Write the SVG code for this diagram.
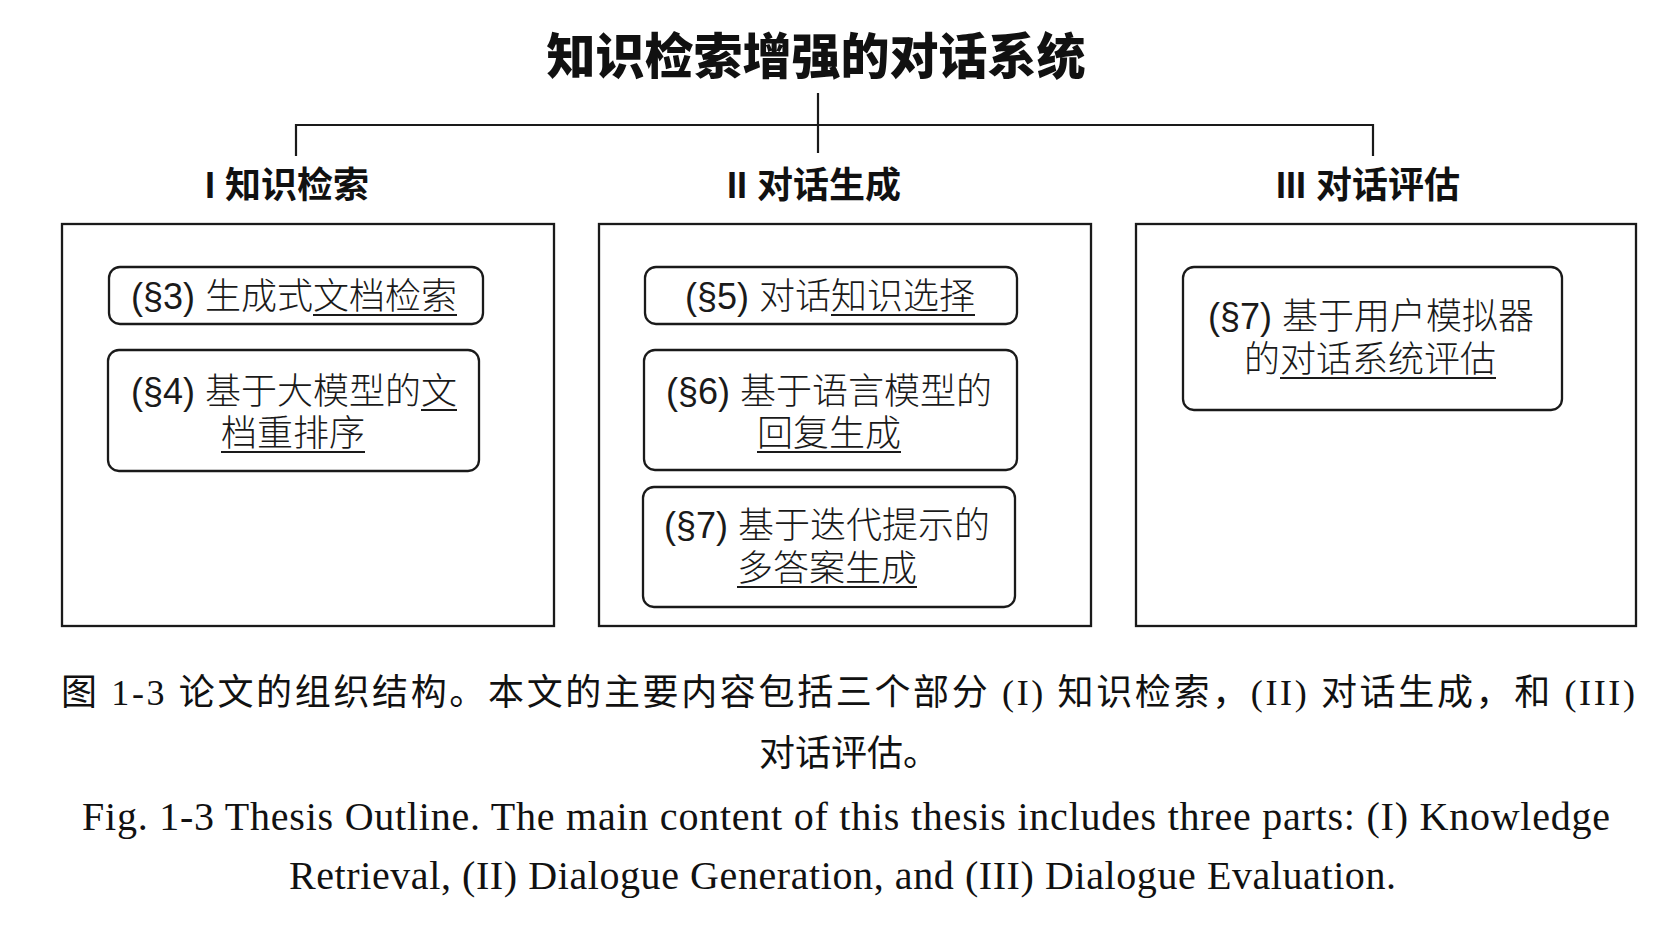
<svg xmlns="http://www.w3.org/2000/svg" width="1656" height="926" viewBox="0 0 1656 926">
<style>
.title{font-family:"Noto Sans CJK SC","Liberation Sans",sans-serif;font-weight:900;font-size:49px;fill:#111;text-anchor:middle}
.head{font-family:"Liberation Sans","Noto Sans CJK SC",sans-serif;font-weight:700;font-size:36px;fill:#111;text-anchor:middle}
.part{fill:#fff;stroke:#1a1a1a;stroke-width:2.3}
.item{fill:#fff;stroke:#1a1a1a;stroke-width:2.3}
.t{font-family:"Liberation Sans","Noto Sans CJK SC",sans-serif;font-weight:300;font-size:36px;fill:#1a1a1a;text-anchor:middle}
.ul{stroke:#1a1a1a;stroke-width:1.8}
.cap{font-family:"Liberation Serif","Noto Sans CJK SC",serif;font-size:36px;fill:#111}
.en{font-family:"Liberation Serif",serif;font-size:40px;fill:#111}
.conn{stroke:#1a1a1a;stroke-width:2.2;fill:none}
</style>
<rect width="1656" height="926" fill="#fff"/>
<g id="root"><text class="title" x="816" y="74">知识检索增强的对话系统</text></g>
<g id="connectors">
<path class="conn" d="M818,93 V153"/>
<path class="conn" d="M296,156 V125 H1373 V156"/>
</g>
<g id="part1">
<text class="head" x="287" y="198">I 知识检索</text>
<rect class="part" x="62" y="224" width="492" height="402"/>
</g>
<g id="part2">
<text class="head" x="814" y="198">II 对话生成</text>
<rect class="part" x="599" y="224" width="492" height="402"/>
</g>
<g id="part3">
<text class="head" x="1368" y="198">III 对话评估</text>
<rect class="part" x="1136" y="224" width="500" height="402"/>
</g>
<g id="s3">
<rect class="item" x="109" y="267" width="374" height="57" rx="11"/>
<text class="t" x="294" y="309">(§3) 生成式文档检索</text>
<line class="ul" x1="313" y1="315" x2="457" y2="315"/>
</g>
<g id="s4">
<rect class="item" x="108" y="350" width="371" height="121" rx="11"/>
<text class="t" x="294" y="404">(§4) 基于大模型的文</text>
<line class="ul" x1="421" y1="410" x2="457" y2="410"/>
<text class="t" x="293" y="446">档重排序</text>
<line class="ul" x1="221" y1="452" x2="365" y2="452"/>
</g>
<g id="s5">
<rect class="item" x="645" y="267" width="372" height="57" rx="11"/>
<text class="t" x="830" y="309">(§5) 对话知识选择</text>
<line class="ul" x1="831" y1="315" x2="975" y2="315"/>
</g>
<g id="s6">
<rect class="item" x="644" y="350" width="373" height="120" rx="11"/>
<text class="t" x="829" y="404">(§6) 基于语言模型的</text>
<text class="t" x="829" y="446">回复生成</text>
<line class="ul" x1="757" y1="452" x2="901" y2="452"/>
</g>
<g id="s7a">
<rect class="item" x="643" y="487" width="372" height="120" rx="11"/>
<text class="t" x="827" y="538">(§7) 基于迭代提示的</text>
<text class="t" x="827" y="581">多答案生成</text>
<line class="ul" x1="737" y1="587" x2="917" y2="587"/>
</g>
<g id="s7b">
<rect class="item" x="1183" y="267" width="379" height="143" rx="11"/>
<text class="t" x="1371" y="329">(§7) 基于用户模拟器</text>
<text class="t" x="1370" y="372">的对话系统评估</text>
<line class="ul" x1="1280" y1="378" x2="1496" y2="378"/>
</g>
<g id="caption">
<text class="cap" x="61" y="705" textLength="1574" lengthAdjust="spacing">图 1-3 论文的组织结构。本文的主要内容包括三个部分 (I) 知识检索，(II) 对话生成，和 (III)</text>
<text class="cap" x="759" y="766">对话评估。</text>
<text class="en" x="82" y="830" textLength="1528" lengthAdjust="spacing">Fig. 1-3 Thesis Outline. The main content of this thesis includes three parts: (I) Knowledge</text>
<text class="en" x="289" y="889" textLength="1107" lengthAdjust="spacing">Retrieval, (II) Dialogue Generation, and (III) Dialogue Evaluation.</text>
</g>
</svg>
